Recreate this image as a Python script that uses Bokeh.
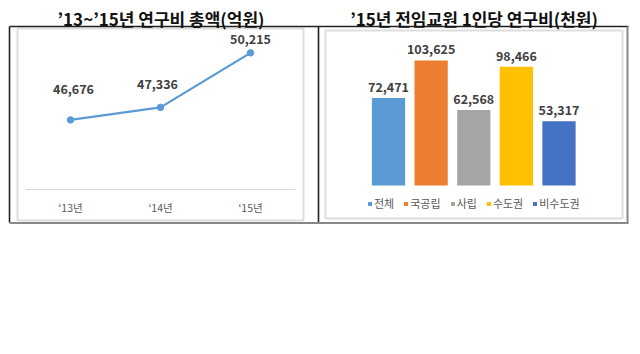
from bokeh.plotting import figure
from bokeh.models import ColumnDataSource, Range1d, Legend, LegendItem
from bokeh.core.properties import value
from bokeh.embed import file_html
from bokeh.resources import INLINE

# ---------------- data ----------------
title_left = "’13~’15년 연구비 총액(억원)"
title_right = "’15년 전임교원 1인당 연구비(천원)"

years = ["‘13년", "‘14년", "‘15년"]
total_budget = [46676, 47336, 50215]

groups = ["전체", "국공립", "사립", "수도권", "비수도권"]
per_person = [72471, 103625, 62568, 98466, 53317]

# ---------------- styles ----------------
W, H = 640, 354
FONT_NAME = "Noto Sans CJK KR"
FONT = value(FONT_NAME)
bar_colors = ["#5b9bd5", "#ed7d31", "#a5a5a5", "#ffc000", "#4472c4"]
line_color = "#5b9bd5"
label_color = "#404040"
axis_text_color = "#595959"
# per-label pixel nudges for the line chart data labels (style only)
line_lab_dx = [3, -3, 0]
line_lab_dy = [-31, -23, -14]


def xr(v0, p0, v1, p1):
    k = (v1 - v0) / (p1 - p0)
    return Range1d(start=v0 + k * (0 - p0), end=v0 + k * (W - p0))


def yr(v0, p0, v1, p1):
    k = (v1 - v0) / (p1 - p0)
    return Range1d(start=v0 + k * (H - p0), end=v0 + k * (0 - p0))


p = figure(width=W, height=H, output_backend="svg", toolbar_location=None,
           x_axis_type=None, y_axis_type=None, min_border=0,
           x_range=Range1d(0, W), y_range=Range1d(H, 0))
p.outline_line_color = None
p.background_fill_color = "white"
p.border_fill_color = "white"

# chart scales
p.extra_x_ranges = {"lx": xr(0, 70, 2, 250), "bx": xr(0, 388, 4, 558.5)}
p.extra_y_ranges = {"ly": yr(43000, 189, 51000, 37.5), "by": yr(0, 185, 120000, 40.2)}

# ---------------- frames ----------------
# inner panels
p.quad(left=[17, 325], right=[303, 622], top=[28, 30], bottom=[220, 218],
       fill_color=None, line_color="#dedede", line_width=2)
# outer box
p.segment(x0=[9, 9, 318], y0=[26, 26, 26], x1=[628, 9, 318], y1=[26, 222, 222],
          line_color="#222222", line_width=1.6)
p.segment(x0=[627, 9], y0=[26, 222.5], x1=[627, 628], y1=[223, 222.5],
          line_color="#888888", line_width=2)

# titles
p.text(x=[160.5, 473.5], y=[18, 18], text=[title_left, title_right],
       text_font=FONT, text_font_style="bold", text_font_size="17px",
       text_color="#111111", text_align="center", text_baseline="middle")

# ---------------- left: line chart ----------------
lsrc = ColumnDataSource(dict(
    x=list(range(len(years))), v=total_budget, yr=years,
    lab=[f"{v:,}" for v in total_budget], dx=line_lab_dx, dy=line_lab_dy))

p.segment(x0=[25], y0=[189], x1=[295], y1=[189], line_color="#d9d9d9", line_width=1.2)
p.line(x="x", y="v", source=lsrc, x_range_name="lx", y_range_name="ly",
       line_color=line_color, line_width=2.3)
p.scatter(x="x", y="v", source=lsrc, x_range_name="lx", y_range_name="ly",
          marker="circle", size=6.5, fill_color=line_color, line_color=line_color)
p.text(x="x", y="v", text="lab", source=lsrc, x_range_name="lx", y_range_name="ly",
       x_offset="dx", y_offset="dy",
       text_font=FONT, text_font_style="bold", text_font_size="12.5px",
       text_color=label_color, text_align="center", text_baseline="middle")
# category labels
lsrc.data["ly_px"] = [207] * len(years)
p.text(x="x", y="ly_px", text="yr", source=lsrc, x_range_name="lx",
       text_font=FONT, text_font_size="10.5px", text_color=axis_text_color,
       text_align="center", text_baseline="middle")

# ---------------- right: bar chart ----------------
bsrc = ColumnDataSource(dict(
    x=list(range(len(groups))), v=per_person, g=groups, c=bar_colors,
    lab=[f"{v:,}" for v in per_person]))
bars = p.vbar(x="x", top="v", bottom=0, width=0.78, source=bsrc,
              x_range_name="bx", y_range_name="by",
              fill_color="c", line_color=None)
p.text(x="x", y="v", text="lab", source=bsrc, x_range_name="bx", y_range_name="by",
       y_offset=-11, text_font=FONT, text_font_style="bold", text_font_size="12.5px",
       text_color=label_color, text_align="center", text_baseline="middle")

legend = Legend(items=[LegendItem(label=g, renderers=[bars], index=i) for i, g in enumerate(groups)],
                orientation="horizontal", location=(367, 143), glyph_width=5, glyph_height=5,
                label_standoff=2, spacing=9, padding=0, margin=0,
                label_text_font=FONT_NAME, label_text_font_size="11px",
                label_text_color=axis_text_color, label_height=11,
                border_line_color=None, background_fill_alpha=0)
p.add_layout(legend)

open("out.html", "w").write(file_html(p, INLINE))
